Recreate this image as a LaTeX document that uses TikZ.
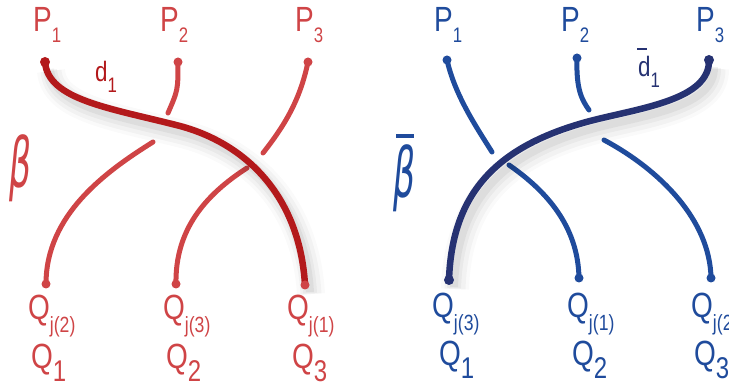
\documentclass[tikz,border=0pt]{standalone}
\usepackage{fontspec}
\setmainfont{Liberation Sans}
\newfontfamily\greekfont{DejaVu Sans}
\usetikzlibrary{positioning}

\definecolor{strandred}{HTML}{CF4446}
\definecolor{mainred}{HTML}{B3191B}
\definecolor{strandblue}{HTML}{1F4B9C}
\definecolor{mainblue}{HTML}{263272}

\newcommand{\nm}[1]{\scalebox{0.8}[1]{#1}}
\newcommand{\plab}[2]{\nm{#1}\raisebox{-11pt}{\fontsize{21}{21}\selectfont\nm{#2}}}
\newcommand{\jlab}[1]{\nm{Q}\raisebox{-13pt}{\fontsize{22}{22}\selectfont\nm{j(#1)}}}
\newcommand{\qlab}[1]{\nm{Q}\raisebox{-13pt}{\fontsize{30}{30}\selectfont\nm{#1}}}
\newcommand{\bigbeta}{\scalebox{0.5}[1]{\fontsize{69}{69}\selectfont\greekfont\itshape β}}

\begin{document}
\begin{tikzpicture}[x=1pt, y=-1pt,
  lbl/.style={inner sep=0, anchor=base west, font=\fontsize{35}{35}\selectfont},
  dlbl/.style={inner sep=0, anchor=base west, font=\fontsize{28}{28}\selectfont},
  strand/.style={line width=5pt, line cap=round},
  main/.style={line width=6.5pt, line cap=round},
  shade/.style={
    preaction={draw=black, opacity=.02, line width=28pt, transform canvas={shift={(6pt,-9pt)}}},
    preaction={draw=black, opacity=.03, line width=21pt, transform canvas={shift={(6pt,-9pt)}}},
    preaction={draw=black, opacity=.04, line width=14pt, transform canvas={shift={(5pt,-8pt)}}},
    preaction={draw=black, opacity=.05, line width=8pt, transform canvas={shift={(5pt,-7pt)}}}},
  bar/.style={line width=3.5pt}
]
\useasboundingbox (0,0) rectangle (729,387);

% left braid
\coordinate (lp1) at (45,62);
\coordinate (lp2) at (178,62);
\coordinate (lp3) at (308,62);
\coordinate (lq1) at (46,284);
\coordinate (lq2) at (176,284);
\coordinate (lq3) at (305,285);
\coordinate (lm) at (180,126);
\coordinate (lb2) at (168,113);
\coordinate (lb3) at (263,153);
\coordinate (lc1) at (153,142);
\coordinate (lc2) at (247,168);

\draw[strandred, strand] (lp2) .. controls (178,90) .. (lb2);
\draw[strandred, strand] (lp3) .. controls (300,100) and (285,125) .. (lb3);
\draw[strandred, strand] (lc1) .. controls (105,172) and (46,215) .. (lq1);
\draw[strandred, strand] (lc2) .. controls (205,195) and (175,230) .. (lq2);
\draw[mainred, main, shade] (lp1) .. controls (48,100) and (110,108) .. (lm)
  .. controls (250,145) and (300,200) .. (lq3);
\foreach \c in {lp2,lp3,lq1,lq2,lq3}
  \fill[strandred] (\c) circle (4.5pt);
\fill[mainred] (lp1) circle (5pt);

\node[lbl, text=strandred] (lP1) at (33,32) {\plab{P}{1}};
\node[lbl, text=strandred] (lP2) at (160,32) {\plab{P}{2}};
\node[lbl, text=strandred] (lP3) at (295,32) {\plab{P}{3}};
\node[dlbl, text=mainred] (ld) at (95,82) {\plab{d}{1}};
\node[inner sep=0, text=strandred] (lbeta) at (21,168) {\bigbeta};
\node[lbl, text=strandred] (lQj1) at (28,320) {\jlab{2}};
\node[lbl, text=strandred] (lQj2) at (163,320) {\jlab{3}};
\node[lbl, text=strandred] (lQj3) at (287,320) {\jlab{1}};
\node[lbl, text=strandred] (lQ1) at (31,369) {\qlab{1}};
\node[lbl, text=strandred] (lQ2) at (166,369) {\qlab{2}};
\node[lbl, text=strandred] (lQ3) at (292,369) {\qlab{3}};

% right braid
\coordinate (rp1) at (447,60);
\coordinate (rp2) at (577,58);
\coordinate (rp3) at (709,60);
\coordinate (rq1) at (449,280);
\coordinate (rq2) at (579,278);
\coordinate (rq3) at (711,278);
\coordinate (rm) at (590,121);
\coordinate (rb1) at (492,152);
\coordinate (rb2) at (589,110);
\coordinate (rc2) at (509,165);
\coordinate (rc3) at (604,140);

\draw[strandblue, strand] (rp1) .. controls (455,95) and (475,125) .. (rb1);
\draw[strandblue, strand] (rp2) .. controls (576,90) and (582,100) .. (rb2);
\draw[strandblue, strand] (rc2) .. controls (545,190) and (578,225) .. (rq2);
\draw[strandblue, strand] (rc3) .. controls (660,170) and (710,220) .. (rq3);
\draw[mainblue, main, shade] (rp3) .. controls (710,100) and (640,108) .. (rm)
  .. controls (500,145) and (452,190) .. (rq1);
\foreach \c in {rp1,rp2,rq2,rq3}
  \fill[strandblue] (\c) circle (4.5pt);
\fill[mainblue] (rp3) circle (5pt);
\fill[mainblue] (rq1) circle (5pt);

\node[lbl, text=strandblue] (rP1) at (434,32) {\plab{P}{1}};
\node[lbl, text=strandblue] (rP2) at (561,32) {\plab{P}{2}};
\node[lbl, text=strandblue] (rP3) at (696,32) {\plab{P}{3}};
\node[dlbl, text=mainblue] (rd) at (638,77) {\plab{d}{1}};
\draw[mainblue, line width=2pt] ([shift={(-1pt,8pt)}]rd.north west) -- ++(10pt,0);
\node[inner sep=0, text=strandblue] (rbeta) at (405,178) {\bigbeta};
\draw[strandblue, bar] ([shift={(-9pt,8pt)}]rbeta.north) -- ++(18pt,0);
\node[lbl, text=strandblue] (rQj1) at (432,318) {\jlab{3}};
\node[lbl, text=strandblue] (rQj2) at (567,318) {\jlab{1}};
\node[lbl, text=strandblue] (rQj3) at (691,318) {\jlab{2}};
\node[lbl, text=strandblue] (rQ1) at (439,366) {\qlab{1}};
\node[lbl, text=strandblue] (rQ2) at (572,366) {\qlab{2}};
\node[lbl, text=strandblue] (rQ3) at (694,366) {\qlab{3}};
\end{tikzpicture}
\end{document}
